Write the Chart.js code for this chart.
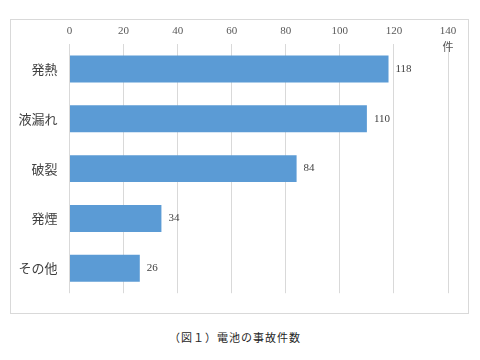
<!DOCTYPE html>
<html><head><meta charset="utf-8">
<script src="https://cdn.jsdelivr.net/npm/chart.js@4"></script>
<style>
html,body{margin:0;padding:0;background:#fff;width:480px;height:360px;overflow:hidden;}
#frame{position:absolute;left:10px;top:19px;width:457px;height:293px;border:1px solid #d9d9d9;}
#c{position:absolute;left:0;top:0;}
#cap{position:absolute;left:0;width:470px;top:329px;text-align:center;font-family:"Noto Sans CJK JP",sans-serif;font-size:11px;color:#262626;letter-spacing:1px;}
</style></head>
<body>
<div id="frame"><canvas id="c" width="457" height="293"></canvas></div>
<div id="cap">（図１）電池の事故件数</div>
<script>
const categories = ["発熱","液漏れ","破裂","発煙","その他"];
const counts = [118,110,84,34,26];
const xTicks = [0,20,40,60,80,100,120,140];
const unitLabel = "件";

const labelPlugin = {
  id:'lbl',
  afterDatasetsDraw(chart){
    const ctx = chart.ctx;
    const meta = chart.getDatasetMeta(0);
    ctx.save();
    ctx.font = '11px "Liberation Serif", serif';
    ctx.fillStyle = '#404040';
    ctx.textAlign = 'left';
    ctx.textBaseline = 'middle';
    meta.data.forEach((bar,i)=>{
      ctx.fillText(String(counts[i]), bar.x + 7, bar.y);
    });
    const xs = chart.scales.x;
    ctx.textAlign = 'center';
    ctx.font = '11px "Noto Sans CJK JP", sans-serif';
    ctx.fillStyle = '#595959';
    ctx.fillText(unitLabel, xs.getPixelForValue(xTicks[xTicks.length-1]), xs.bottom + 3);
    ctx.restore();
  }
};

new Chart(document.getElementById('c'), {
  type:'bar',
  data:{labels:categories, datasets:[{data:counts, backgroundColor:'#5b9bd5', borderWidth:0, categoryPercentage:0.54, barPercentage:1}]},
  options:{
    indexAxis:'y', responsive:false, animation:false,
    layout:{padding:{left:0,right:20,top:0,bottom:10}},
    plugins:{legend:{display:false}, tooltip:{enabled:false}},
    scales:{
      x:{position:'top', min:0, max:140,
         afterBuildTicks(s){ s.ticks = xTicks.map(v=>({value:v})); },
         afterFit(s){ s.height = 24; },
         grid:{color:'#d9d9d9', drawTicks:false},
         border:{display:false},
         ticks:{padding:6, color:'#595959', font:{family:'"Liberation Serif", serif', size:11}}},
      y:{afterFit(s){ s.width = 58.5; },
         grid:{display:false, drawTicks:false}, border:{display:false},
         ticks:{padding:12, color:'#404040', font:{family:'"Noto Sans CJK JP", sans-serif', size:13}}}
    }
  },
  plugins:[labelPlugin]
});
</script>
</body></html>
